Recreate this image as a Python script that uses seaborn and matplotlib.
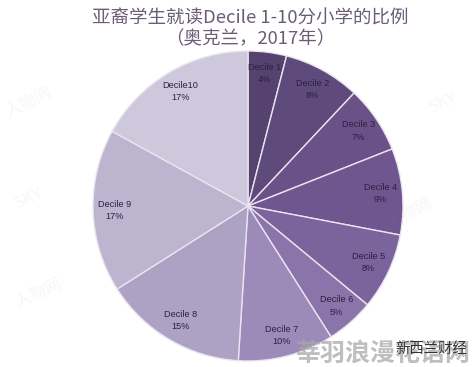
import numpy as np
import matplotlib
matplotlib.use('Agg')
import matplotlib.pyplot as plt
import seaborn as sns

labels = ['Decile 1', 'Decile 2', 'Decile 3', 'Decile 4', 'Decile 5',
          'Decile 6', 'Decile 7', 'Decile 8', 'Decile 9', 'Decile10']
values = [4, 8, 7, 9, 8, 5, 10, 15, 17, 17]
colors = ['#55426f', '#5f4a7c', '#6a5288', '#70568f', '#7b639b',
          '#8a74aa', '#9c8bb9', '#ada2c4', '#bdb4d0', '#cec8dc']
title = '亚裔学生就读Decile 1-10分小学的比例\n（奥克兰，2017年）'
footer = '新西兰财经'
watermark = '莘羽浪漫花语网'
faint_marks = ['人物网', 'SKY', '人物网', 'SKY', '人物网']

sns.set_theme(style='white')
plt.rcParams['font.family'] = ['Noto Sans CJK SC', 'DejaVu Sans']

fig = plt.figure(figsize=(4.76, 3.67), dpi=100)
fig.patch.set_facecolor('white')
ax = fig.add_axes([93 / 476, 1 - 361 / 367, 310 / 476, 310 / 367])

wedges, _ = ax.pie(values, colors=colors, startangle=90, counterclock=False,
                   radius=1, wedgeprops={'edgecolor': '#e9e4f0', 'linewidth': 1})
ax.set_xlim(-1, 1)
ax.set_ylim(-1, 1)

# slice labels sit at about 0.86 of the radius
for w, lab, v in zip(wedges, labels, values):
    ang = np.deg2rad((w.theta1 + w.theta2) / 2)
    ax.text(0.86 * np.cos(ang), 0.86 * np.sin(ang), f'{lab}\n{v}%', ha='center', va='center',
            fontsize=6.6, color='#2b2040', family=['Liberation Sans'], linespacing=1.45)

fig.text(250 / 476, 1 - 29 / 367, title, ha='center', va='center', fontsize=13.3,
         color='#6b5c78', linespacing=1.15, fontweight='light')

# faint diagonal stamps
for mark, x, y in zip(faint_marks, [0.06, 0.06, 0.08, 0.93, 0.86], [0.72, 0.46, 0.2, 0.72, 0.42]):
    fig.text(x, y, mark, rotation=25, fontsize=12, color='#8a8a8a', alpha=0.07,
             ha='center', va='center')

fig.text(383 / 476, 1 - 354 / 367, watermark, ha='center', va='center', fontsize=18,
         color='#a8a8a8', alpha=0.75, fontweight='bold')
fig.text(431 / 476, 1 - 349 / 367, footer, ha='center', va='center', fontsize=10.4,
         color='#333333')

fig.savefig('out.png', dpi=100)
